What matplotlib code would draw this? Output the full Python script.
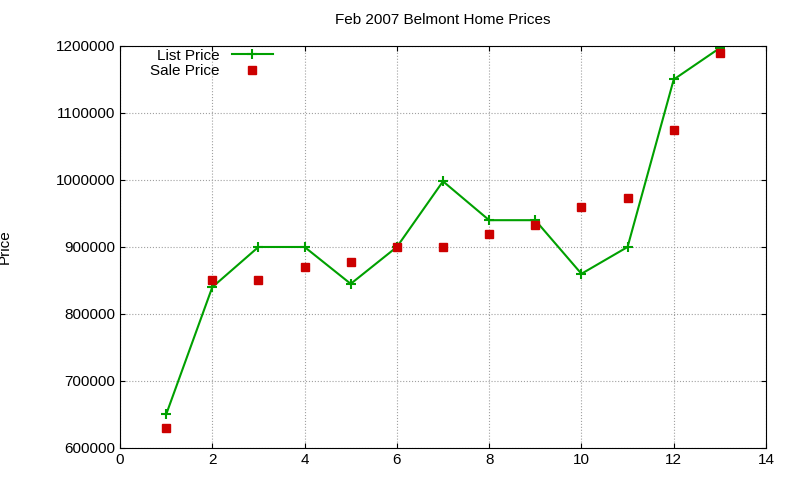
import matplotlib
matplotlib.use("Agg")
import matplotlib.pyplot as plt

x = list(range(1, 14))
list_price = [650000, 840000, 900000, 900000, 845000, 900000, 998000, 940000, 940000, 860000, 900000, 1150000, 1197000]
sale_price = [630000, 850000, 850000, 870000, 878000, 900000, 900000, 920000, 933000, 960000, 973000, 1075000, 1190000]

plt.rcParams['font.family'] = ['Liberation Sans', 'DejaVu Sans']
fig = plt.figure(figsize=(8, 4.8), dpi=100)
ax = fig.add_axes([0.15, 0.0667, 0.8075, 0.8375])
ax.plot(x, list_price, color='#00a000', marker='+', markersize=7, mew=1.5, lw=1.5, label='List Price')
ax.plot(x, sale_price, color='#cc0000', marker='s', markersize=6, ls='none', label='Sale Price')
ax.set_xlim(0, 14)
ax.set_ylim(600000, 1200000)
ax.set_xticks(range(0, 15, 2))
ax.set_yticks(range(600000, 1200001, 100000))
ax.ticklabel_format(style='plain', axis='y')
ax.grid(True, color='#a0a0a0', ls=':', lw=0.8)
ax.tick_params(direction='in', top=True, right=True, labelsize=11)
ax.set_ylabel('Price', fontsize=11)
ax.yaxis.set_label_coords(-0.167, 0.5)
ax.set_title('Feb 2007 Belmont Home Prices', fontsize=11, pad=16)
leg = ax.legend(loc='upper left', frameon=False, markerfirst=False, fontsize=11,
                bbox_to_anchor=(0.03, 1.02), handlelength=2.7, borderpad=0.2, labelspacing=0.1)
for t in leg.get_texts():
    t.set_ha('right')
fig.savefig('out.png', dpi=100)
